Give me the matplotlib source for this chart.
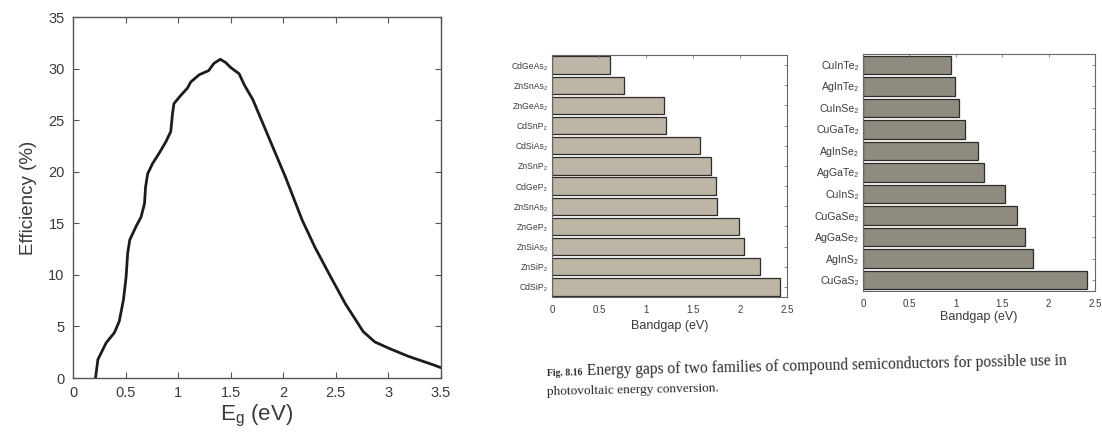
import matplotlib
matplotlib.use("Agg")
import matplotlib.pyplot as plt
import numpy as np

plt.rcParams['font.family'] = ['Liberation Sans', 'DejaVu Sans']
plt.rcParams['mathtext.fontset'] = 'custom'
plt.rcParams['mathtext.rm'] = 'Liberation Sans'
plt.rcParams['mathtext.it'] = 'Liberation Sans'

# ---- Data: efficiency vs bandgap ----
eg = [0.214, 0.237, 0.315, 0.394, 0.44, 0.48, 0.505, 0.52, 0.54, 0.60, 0.647, 0.68,
      0.69, 0.71, 0.757, 0.82, 0.883, 0.93, 0.946, 0.96, 1.025, 1.088, 1.12, 1.20,
      1.29, 1.34, 1.40, 1.45, 1.50, 1.58, 1.63, 1.71, 1.90, 2.02, 2.18, 2.30, 2.43,
      2.59, 2.76, 2.87, 3.00, 3.19, 3.42, 3.50]
eff = [0.0, 1.8, 3.4, 4.4, 5.5, 7.6, 9.8, 12.1, 13.4, 14.7, 15.6, 16.9,
       18.5, 19.8, 20.8, 21.8, 22.9, 23.9, 25.6, 26.6, 27.4, 28.1, 28.7, 29.4,
       29.8, 30.5, 30.9, 30.6, 30.1, 29.5, 28.4, 27.0, 22.4, 19.5, 15.3, 12.7, 10.2,
       7.2, 4.5, 3.5, 2.9, 2.1, 1.3, 1.0]

# ---- Data: bandgaps of two compound families ----
fam1_names = ['CdGeAs₂', 'ZnSnAs₂', 'ZnGeAs₂', 'CdSnP₂', 'CdSiAs₂', 'ZnSnP₂',
              'CdGeP₂', 'ZnSnAs₂', 'ZnGeP₂', 'ZnSiAs₂', 'ZnSiP₂', 'CdSiP₂']
fam1_gaps = [0.62, 0.77, 1.19, 1.21, 1.57, 1.69, 1.74, 1.76, 1.99, 2.04, 2.21, 2.43]

fam2_names = ['CuInTe₂', 'AgInTe₂', 'CuInSe₂', 'CuGaTe₂', 'AgInSe₂', 'AgGaTe₂',
              'CuInS₂', 'CuGaSe₂', 'AgGaSe₂', 'AgInS₂', 'CuGaS₂']
fam2_gaps = [0.95, 0.99, 1.03, 1.10, 1.24, 1.30, 1.53, 1.66, 1.75, 1.83, 2.41]

bar_ticks = [0, 0.5, 1, 1.5, 2, 2.5]
bar_ticklabels = ['0', '0.5', '1', '1.5', '2', '2.5']

W, H = 1102, 444
fig = plt.figure(figsize=(W / 100, H / 100), dpi=100)
fig.patch.set_facecolor('white')

txt = '#3a3a3a'

# ---------------- Left: efficiency curve ----------------
ax = fig.add_axes([73 / W, 1 - 378 / H, (441 - 73) / W, (378 - 17) / H])
ax.plot(eg, eff, color='#1c1c1c', lw=2.0)
ax.set_xlim(0, 3.5)
ax.set_ylim(0, 35)
ax.set_xticks([0, 0.5, 1, 1.5, 2, 2.5, 3, 3.5])
ax.set_xticklabels(['0', '0.5', '1', '1.5', '2', '2.5', '3', '3.5'])
ax.set_yticks([0, 5, 10, 15, 20, 25, 30, 35])
ax.tick_params(direction='in', top=True, right=True, length=4, width=0.8,
               labelsize=10.5, colors='#555555', labelcolor=txt, pad=6)
for s in ax.spines.values():
    s.set_color('#555555')
    s.set_linewidth(1.0)
ax.set_ylabel('Efficiency (%)', fontsize=13.5, color=txt, labelpad=8)
ax.set_xlabel(r'E$_{\mathregular{g}}$ (eV)', fontsize=16, color=txt, labelpad=2)

# ---------------- Bar charts ----------------
def bar_panel(rect, names, gaps, color, label_fs, lab_y):
    a = fig.add_axes(rect)
    pos = np.arange(len(names))
    a.barh(pos, gaps, height=0.86, color=color, edgecolor='#2e2c28', linewidth=0.9)
    a.set_ylim(len(names) - 0.5, -0.5)
    a.set_xlim(0, 2.5)
    a.set_yticks(pos)
    a.set_yticklabels(names, fontsize=label_fs, color='#3c3c3c')
    a.set_xticks(bar_ticks)
    a.set_xticklabels(bar_ticklabels, fontsize=7, color='#3c3c3c')
    a.tick_params(axis='y', direction='in', left=False, right=True, length=2.5,
                  width=0.6, colors='#777777', labelcolor='#3c3c3c', pad=3)
    a.tick_params(axis='x', direction='in', top=True, bottom=False, length=2.5,
                  width=0.6, colors='#777777', labelcolor='#3c3c3c', pad=6)
    for s in a.spines.values():
        s.set_color('#666666')
        s.set_linewidth(0.8)
    a.set_xlabel('Bandgap (eV)', fontsize=9, color='#3a3a3a', labelpad=lab_y)
    return a

bar_panel([552 / W, 1 - 297 / H, (787 - 552) / W, (297 - 55) / H],
          fam1_names, fam1_gaps, '#bdb6a6', 6.2, 3)
bar_panel([863 / W, 1 - 291 / H, (1095 - 863) / W, (291 - 54) / H],
          fam2_names, fam2_gaps, '#8f8b80', 7.6, 1)

# ---------------- Caption ----------------
cap_fam = ['Liberation Serif', 'DejaVu Serif']
fig.text(547 / W, 1 - 376 / H, 'Fig. 8.16', fontsize=7, family=cap_fam,
         fontweight='bold', color='#2a2a2a', rotation=1.2, rotation_mode='anchor')
fig.text(587 / W, 1 - 375 / H,
         'Energy gaps of two families of compound semiconductors for possible use in',
         fontsize=11.2, family=cap_fam, color='#2a2a2a', rotation=1.2,
         rotation_mode='anchor')
fig.text(547 / W, 1 - 395 / H, 'photovoltaic energy conversion.', fontsize=9.6,
         family=cap_fam, color='#2a2a2a', rotation=1.2, rotation_mode='anchor')

fig.savefig('out.png', dpi=100, facecolor='white')
